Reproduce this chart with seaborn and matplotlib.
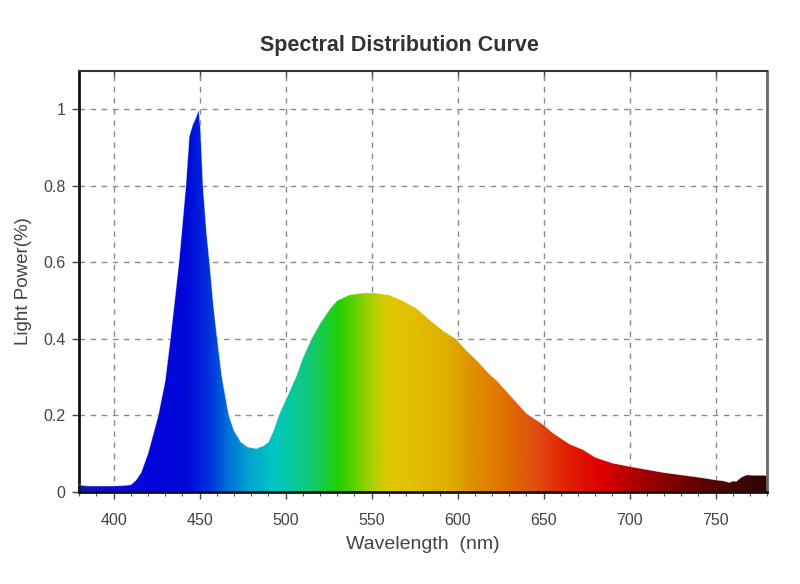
import numpy as np
import matplotlib
matplotlib.use("Agg")
import matplotlib.pyplot as plt
import seaborn as sns
import pandas as pd
from matplotlib.colors import LinearSegmentedColormap
from matplotlib.ticker import MultipleLocator

# spectrum
wavelength = [380, 385, 390, 395, 400, 405, 410, 413, 416, 420, 423, 426, 430, 433,
              436, 438, 440, 442, 444, 446, 448, 449.5, 450.5, 452, 454, 456, 458, 460,
              463, 467, 470, 474, 478, 483, 487, 490, 493, 496, 500, 506, 510, 515,
              520, 526, 530, 537, 545, 552, 560, 568, 576, 585, 592, 599, 605, 612,
              618, 623, 630, 635, 640, 645, 650, 655, 660, 665, 673, 680, 690, 700,
              710, 720, 725, 730, 740, 750, 755, 758, 760, 762, 765, 768, 772, 780]
power = [0.018, 0.015, 0.015, 0.015, 0.015, 0.016, 0.018, 0.03, 0.05, 0.10, 0.15, 0.20,
         0.29, 0.40, 0.52, 0.60, 0.70, 0.80, 0.93, 0.96, 0.98, 1.0, 0.95, 0.80, 0.68,
         0.59, 0.49, 0.41, 0.30, 0.20, 0.16, 0.13, 0.117, 0.113, 0.12, 0.13, 0.16, 0.20,
         0.24, 0.30, 0.35, 0.40, 0.44, 0.48, 0.50, 0.515, 0.52, 0.52, 0.515, 0.50, 0.48,
         0.445, 0.42, 0.40, 0.37, 0.34, 0.31, 0.29, 0.255, 0.23, 0.205, 0.19, 0.175,
         0.155, 0.14, 0.125, 0.11, 0.09, 0.075, 0.066, 0.058, 0.05, 0.047, 0.044, 0.038,
         0.031, 0.028, 0.024, 0.028, 0.027, 0.038, 0.044, 0.043, 0.043]

df = pd.DataFrame({"Wavelength": wavelength, "Power": power})

# colour stops of the spectrum fill (wavelength, colour)
stops = [(380, "#1414c0"), (417, "#0404dc"), (442, "#0008d8"), (455, "#0030dc"),
         (466, "#0070d8"), (478, "#00a4d0"), (494, "#00c8c0"), (514, "#10c878"),
         (531, "#20d000"), (552, "#b8d000"), (561, "#e0c800"), (594, "#e0b000"),
         (609, "#e09000"), (628, "#e07000"), (645, "#e05010"), (664, "#e02000"),
         (684, "#e00000"), (703, "#b00000"), (732, "#700000"), (764, "#400808"),
         (780, "#300000")]

sns.set_style("ticks")
plt.rcParams["font.family"] = ["Liberation Sans", "DejaVu Sans"]

fig = plt.figure(figsize=(8, 5.84), dpi=100)
ax = fig.add_axes([0.099, 0.158, 0.86, 0.72])

cmap = LinearSegmentedColormap.from_list(
    "spec", [((w - 380) / 400, c) for w, c in stops])
grad = np.linspace(0, 1, 800).reshape(1, -1)

poly = ax.fill_between(df["Wavelength"], df["Power"], 0, color="none", lw=0)
img = ax.imshow(grad, cmap=cmap, aspect="auto", extent=[380, 780, 0, 1.1],
                origin="lower", zorder=2)
img.set_clip_path(poly.get_paths()[0], transform=ax.transData)

sns.lineplot(data=df, x="Wavelength", y="Power", ax=ax, color="white",
             lw=0.6, alpha=0.5, zorder=3)

ax.set_xlim(380, 780)
ax.set_ylim(0, 1.1)
ax.xaxis.set_major_locator(MultipleLocator(50))
ax.xaxis.set_minor_locator(MultipleLocator(10))
ax.set_yticks([0, 0.2, 0.4, 0.6, 0.8, 1.0])
ax.set_yticklabels(["0", "0.2", "0.4", "0.6", "0.8", "1"])
ax.grid(True, which="major", color="#8a8a8a", ls=(0, (4, 4)), lw=1)
ax.set_axisbelow(True)

ax.tick_params(axis="both", which="both", bottom=True, left=True, top=False,
               right=False)
ax.tick_params(axis="both", which="major", direction="out", length=5, width=1,
               color="#444444", labelsize=11.5, labelcolor="#444444")
ax.tick_params(axis="x", which="major", pad=10)
ax.tick_params(axis="y", which="major", pad=5)
ax.tick_params(axis="x", which="minor", direction="out", length=3, width=0.8,
               color="#555555")
ax2 = ax.secondary_xaxis("top")
ax2.xaxis.set_major_locator(MultipleLocator(50))
ax2.tick_params(direction="in", length=5, width=1, color="#444444",
                labeltop=False, top=True)
ax2.spines["top"].set_visible(False)

for side in ["left", "bottom"]:
    ax.spines[side].set_color("#111111")
    ax.spines[side].set_linewidth(2)
ax.spines["top"].set_color("#333333")
ax.spines["top"].set_linewidth(1.5)
ax.spines["right"].set_color("#666666")
ax.spines["right"].set_linewidth(2)

ax.set_xlabel("Wavelength  (nm)", fontsize=14, color="#444444", labelpad=6)
ax.set_ylabel("Light Power(%)", fontsize=13.5, color="#444444", labelpad=8)
fig.text(0.499, 0.922, "Spectral Distribution Curve", ha="center", va="center",
         fontsize=15.5, fontweight="bold", color="#333333")

plt.savefig("out.png", dpi=100)
